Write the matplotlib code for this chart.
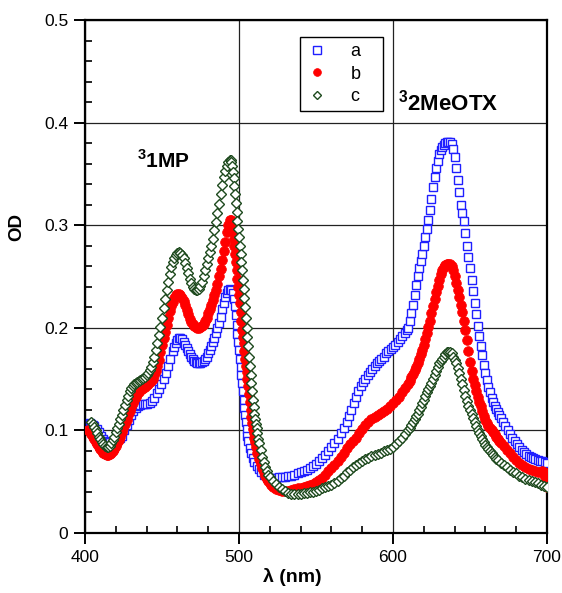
import numpy as np
import matplotlib
matplotlib.use("Agg")
import matplotlib.pyplot as plt
from matplotlib.ticker import MultipleLocator

plt.rcParams['font.family'] = ['Liberation Sans', 'DejaVu Sans']
plt.rcParams['mathtext.fontset'] = 'custom'
plt.rcParams['mathtext.rm'] = 'Liberation Sans:bold'
plt.rcParams['mathtext.bf'] = 'Liberation Sans:bold'

# series a (blue squares): (wavelength nm, OD)
pts_a = [
    (403, .107), (404, .106), (405, .105), (406, .104), (407.5, .101), (409, .098), (410.5, .095),
    (412, .092), (413.5, .090), (415, .089), (416.5, .089), (418, .090), (419.5, .091), (421, .092),
    (422.5, .093), (424, .095), (425.5, .100), (427, .105), (428.5, .110), (430, .115), (431.5, .119),
    (433, .122), (434.5, .124), (436, .125), (437.5, .126), (439, .126), (440.5, .126), (442, .127),
    (443.5, .129), (445, .132), (446.5, .136), (448, .140), (449.5, .145), (451, .150), (452.5, .156),
    (454, .163), (455.5, .170), (457, .177), (458, .181), (459, .185), (460, .188), (461, .190),
    (462, .190), (463, .189), (464, .186), (465, .183), (466, .180), (467, .177), (468, .174),
    (469, .172), (470, .170), (471, .168), (472, .167), (473, .166), (474, .166), (475, .166),
    (476, .167), (477, .168), (478, .170), (479, .172), (480, .175), (481, .178), (482, .182),
    (483, .186), (484, .190), (485, .195), (486, .200), (487, .205), (488, .211), (489, .218),
    (490, .224), (491, .230), (492, .234), (493, .237), (494, .238), (495, .237), (496, .234),
    (497, .228), (497.5, .221), (498, .212), (498.5, .203), (499, .194), (499.5, .186), (500, .178),
    (500.5, .170), (501, .162), (501.5, .154), (502, .146), (502.5, .138), (503, .130), (503.5, .122),
    (504, .115), (504.5, .108), (505, .101), (505.5, .095), (506, .090), (507, .083), (508, .078),
    (509, .073), (510, .069), (511.5, .065), (513, .062), (514.5, .059), (516, .057), (518, .055),
    (520, .054), (522, .054), (524, .054), (526, .055), (528, .055), (530, .055), (532, .056),
    (534, .056), (536, .057), (538, .058), (540, .059), (542, .060), (544, .061), (546, .063),
    (548, .065), (550, .067), (552, .070), (554, .073), (556, .076), (558, .080), (560, .084),
    (562, .088), (564, .092), (566, .097), (568, .102), (570, .108), (571.5, .114), (573, .120),
    (574.5, .127), (576, .133), (577.5, .138), (579, .143), (580.5, .147), (582, .150), (583.5, .154),
    (585, .157), (586.5, .160), (588, .163), (589.5, .166), (591, .168), (592.5, .170), (594, .172),
    (595.5, .175), (597, .177), (598.5, .179), (600, .181), (601.5, .183), (603, .186), (604.5, .189),
    (606, .192), (607.5, .195), (609, .198), (610, .200), (611, .207), (612, .214), (613, .222),
    (614, .232), (615, .242), (616, .250), (617, .258), (618, .265), (619, .272), (620, .280),
    (621, .288), (622, .296), (623, .305), (624, .315), (625, .326), (626, .337), (627, .347),
    (628, .356), (629, .363), (630, .369), (631, .373), (632, .376), (633, .378), (634, .380),
    (635, .381), (636, .381), (637, .381), (638, .379), (639, .374), (640, .366), (641, .356),
    (642, .344), (643, .332), (644, .320), (645, .312), (646, .304), (647, .292), (648, .280),
    (649, .269), (650, .258), (651, .247), (652, .236), (653, .224), (654, .213), (655, .202),
    (656, .192), (657, .182), (658, .173), (659, .164), (660, .156), (661, .149), (662, .142),
    (663, .137), (664, .132), (665, .128), (666, .124), (667, .121), (668, .118), (669, .115),
    (670, .112), (671.5, .108), (673, .104), (674.5, .100), (676, .096), (677.5, .093), (679, .090),
    (680.5, .087), (682, .084), (683.5, .081), (685, .079), (686.5, .077), (688, .075), (689.5, .074),
    (691, .073), (692.5, .072), (694, .071), (695.5, .070), (697, .070), (698.5, .069), (700, .068),
]

# series b (red circles)
pts_b = [
    (402, .100), (403, .098), (404, .096), (405, .094), (406, .092), (407, .089), (408, .087),
    (409, .084), (410, .082), (411, .080), (412, .078), (413, .077), (414, .076), (415, .076),
    (416, .077), (417, .078), (418, .080), (419, .082), (420, .085), (421, .088), (422, .091),
    (423, .094), (424, .098), (425, .102), (426, .106), (427, .110), (428, .115), (429, .119),
    (430, .123), (431, .127), (432, .130), (433, .133), (434, .135), (435, .137), (436, .139),
    (437, .140), (438, .141), (439, .142), (440, .144), (441, .145), (442, .147), (443, .148),
    (444, .150), (445, .154), (446, .158), (447, .163), (448, .169), (449, .176), (450, .183),
    (451, .190), (452, .196), (453, .203), (454, .210), (455, .216), (456, .221), (457, .225),
    (458, .229), (459, .232), (460, .233), (461, .233), (462, .232), (463, .229), (464, .226),
    (465, .222), (466, .217), (467, .213), (468, .209), (469, .206), (470, .204), (471, .202),
    (472, .201), (473, .200), (474, .200), (475, .201), (476, .202), (477, .204), (478, .207),
    (479, .210), (480, .214), (481, .218), (482, .222), (483, .227), (484, .232), (485, .237),
    (486, .243), (487, .250), (488, .257), (489, .266), (490, .275), (491, .284), (492, .293),
    (493, .300), (494, .305), (494.5, .305), (495, .303), (495.5, .300), (496, .294), (496.5, .287),
    (497, .280), (497.5, .272), (498, .264), (498.5, .256), (499, .248), (499.5, .240), (500, .232),
    (500.5, .224), (501, .215), (501.5, .207), (502, .198), (502.5, .191), (503, .185), (503.5, .177),
    (504, .170), (504.5, .163), (505, .157), (505.5, .150), (506, .143), (506.5, .135), (507, .128),
    (507.5, .120), (508, .113), (508.5, .107), (509, .101), (509.5, .097), (510, .093), (510.5, .089),
    (511, .084), (512, .078), (513, .072), (514, .067), (515, .063), (516, .059), (517, .056),
    (518, .053), (519, .051), (520, .049), (521, .047), (522, .045), (524, .043), (526, .042),
    (528, .041), (530, .041), (532, .041), (534, .042), (536, .043), (538, .044), (540, .044),
    (542, .045), (544, .046), (546, .047), (548, .048), (550, .050), (552, .052), (554, .054),
    (556, .057), (558, .060), (560, .063), (562, .066), (564, .070), (566, .074), (568, .078),
    (570, .083), (572, .087), (574, .090), (576, .093), (578, .097), (580, .101), (582, .105),
    (584, .108), (586, .111), (588, .113), (590, .115), (592, .117), (594, .119), (596, .121),
    (598, .124), (600, .127), (602, .130), (604, .133), (606, .137), (608, .141), (610, .145),
    (611, .148), (612, .152), (613, .155), (614, .159), (615, .162), (616, .166), (617, .170),
    (618, .174), (619, .178), (620, .183), (621, .189), (622, .195), (623, .201), (624, .207),
    (625, .214), (626, .221), (627, .228), (628, .235), (629, .241), (630, .247), (631, .252),
    (632, .256), (633, .259), (634, .261), (635, .262), (636, .262), (637, .262), (638, .260),
    (639, .256), (640, .250), (641, .244), (642, .237), (643, .230), (644, .222), (645, .215),
    (646, .207), (647, .198), (648, .188), (649, .177), (650, .167), (651, .158), (652, .150),
    (653, .144), (654, .138), (655, .133), (656, .128), (657, .124), (658, .119), (659, .114),
    (660, .110), (661, .107), (662, .104), (663, .102), (664, .100), (665, .098), (666, .096),
    (667, .094), (668, .092), (669, .090), (670, .088), (672, .085), (674, .081), (676, .078),
    (678, .074), (680, .071), (682, .068), (684, .066), (686, .064), (688, .062), (690, .061),
    (692, .060), (694, .059), (696, .059), (697, .060), (698, .059), (699, .055), (700, .045),
]

# series c (green diamonds)
pts_c = [
    (404, .108), (405, .106), (406, .103), (407, .100), (408, .097), (409, .094), (410, .092),
    (411, .089), (412, .087), (413, .085), (414, .084), (415, .084), (416, .085), (417, .088),
    (418, .091), (419, .094), (420, .098), (421, .102), (422, .106), (423, .111), (424, .115),
    (425, .120), (426, .125), (427, .130), (428, .134), (429, .138), (430, .141), (431, .143),
    (432, .145), (433, .146), (434, .147), (435, .148), (436, .149), (437, .150), (438, .151),
    (439, .152), (440, .154), (441, .156), (442, .159), (443, .162), (444, .167), (445, .172),
    (446, .178), (447, .185), (448, .193), (449, .201), (450, .210), (451, .219), (452, .228),
    (453, .237), (454, .245), (455, .252), (456, .259), (457, .264), (458, .268), (459, .271),
    (460, .273), (461, .274), (462, .273), (463, .271), (464, .268), (465, .263), (466, .258),
    (467, .253), (468, .248), (469, .244), (470, .240), (471, .238), (472, .237), (473, .237),
    (474, .238), (475, .241), (476, .245), (477, .250), (478, .256), (479, .262), (480, .268),
    (481, .274), (482, .280), (483, .287), (484, .295), (485, .303), (486, .312), (487, .321),
    (488, .330), (489, .339), (490, .347), (491, .353), (492, .358), (493, .362), (494, .364),
    (494.5, .364), (495, .362), (495.5, .358), (496, .352), (496.5, .346), (497, .338), (497.5, .330),
    (498, .322), (498.5, .313), (499, .304), (499.5, .296), (500, .288), (500.5, .280), (501, .272),
    (501.5, .264), (502, .256), (502.5, .247), (503, .238), (503.5, .229), (504, .220), (504.5, .210),
    (505, .200), (505.5, .191), (506, .182), (506.5, .172), (507, .163), (507.5, .154), (508, .146),
    (508.5, .138), (509, .130), (509.5, .123), (510, .116), (510.5, .111), (511, .106), (511.5, .102),
    (512, .097), (512.5, .092), (513, .088), (514, .081), (515, .074), (516, .069), (517, .064),
    (518, .060), (519, .057), (520, .055), (522, .051), (524, .048), (526, .045), (528, .043),
    (530, .041), (532, .039), (534, .038), (536, .038), (538, .038), (540, .038), (542, .039),
    (544, .039), (546, .040), (548, .040), (550, .041), (552, .042), (554, .044), (556, .045),
    (558, .046), (560, .047), (562, .049), (564, .051), (566, .054), (568, .056), (570, .059),
    (572, .061), (574, .064), (576, .066), (578, .068), (580, .070), (582, .072), (584, .073),
    (586, .075), (588, .076), (590, .077), (592, .078), (594, .080), (596, .081), (598, .082),
    (600, .084), (602, .087), (604, .090), (606, .093), (608, .096), (610, .100), (611, .102),
    (612, .105), (613, .108), (614, .111), (615, .114), (616, .116), (617, .120), (618, .123),
    (619, .127), (620, .130), (621, .134), (622, .137), (623, .140), (624, .143), (625, .146),
    (626, .150), (627, .154), (628, .158), (629, .162), (630, .166), (631, .168), (632, .170),
    (633, .172), (634, .174), (635, .176), (636, .176), (637, .176), (638, .175), (639, .172),
    (640, .169), (641, .166), (642, .161), (643, .156), (644, .150), (645, .145), (646, .139),
    (647, .134), (648, .129), (649, .124), (650, .120), (651, .116), (652, .112), (653, .108),
    (654, .104), (655, .100), (656, .097), (657, .095), (658, .092), (659, .089), (660, .086),
    (661, .084), (662, .082), (663, .080), (664, .078), (665, .076), (666, .074), (667, .072),
    (668, .071), (670, .068), (672, .066), (674, .064), (676, .061), (678, .059), (680, .058),
    (682, .056), (684, .055), (686, .053), (688, .052), (690, .051), (692, .050), (694, .049),
    (696, .047), (698, .046), (700, .045),
]

wl_a, od_a = np.array(pts_a).T
wl_b, od_b = np.array(pts_b).T
wl_c, od_c = np.array(pts_c).T

fig = plt.figure(figsize=(5.62, 5.93), dpi=100)
ax = fig.add_axes([0.1512, 0.1012, 0.8221, 0.8651])

ax.plot(wl_a, od_a, ls='none', marker='s', ms=6.4, mfc='white', mec='#1f1fff', mew=1.0,
        label='a   ', zorder=3)
ax.plot(wl_b, od_b, ls='none', marker='o', ms=7, mfc='#ff0000', mec='#ff0000', mew=0.5,
        label='b   ', zorder=4)
ax.plot(wl_c, od_c, ls='none', marker='D', ms=4.8, mfc='white', mec='#1e4a1e', mew=1.0,
        label='c   ', zorder=5)

ax.set_xlim(400, 700)
ax.set_ylim(0, 0.5)
ax.xaxis.set_major_locator(MultipleLocator(100))
ax.xaxis.set_minor_locator(MultipleLocator(20))
ax.yaxis.set_minor_locator(MultipleLocator(0.02))
ax.set_yticks([0, 0.1, 0.2, 0.3, 0.4, 0.5])
ax.set_yticklabels(['0', '0.1', '0.2', '0.3', '0.4', '0.5'])

ax.grid(True, which='major', color='#222222', lw=0.9, zorder=1)
ax.tick_params(which='major', direction='out', length=8, width=1.4, labelsize=12.5, pad=4)
ax.tick_params(which='minor', direction='in', length=5, width=1.2)
for s in ax.spines.values():
    s.set_linewidth(1.6)

ax.set_xlabel('λ (nm)', fontsize=14, fontweight='bold')
ax.xaxis.set_label_coords(0.448, -0.068)
ax.set_ylabel('OD', fontsize=13.5, fontweight='bold')
ax.yaxis.set_label_coords(-0.13, 0.596)

ax.text(433.5, 0.356, r'$^{3}$1MP', fontsize=15, fontweight='bold')
ax.text(603, 0.412, r'$^{3}$2MeOTX', fontsize=16, fontweight='bold')

leg = ax.legend(loc='upper left', bbox_to_anchor=(0.465, 0.967), borderaxespad=0,
                fontsize=13, frameon=True, fancybox=False, edgecolor='black', framealpha=1,
                handletextpad=1.3, labelspacing=0.3, borderpad=0.35,
                handlelength=1.2, markerscale=0.8)
leg.get_frame().set_linewidth(1.0)

fig.savefig('out.png', dpi=100)
